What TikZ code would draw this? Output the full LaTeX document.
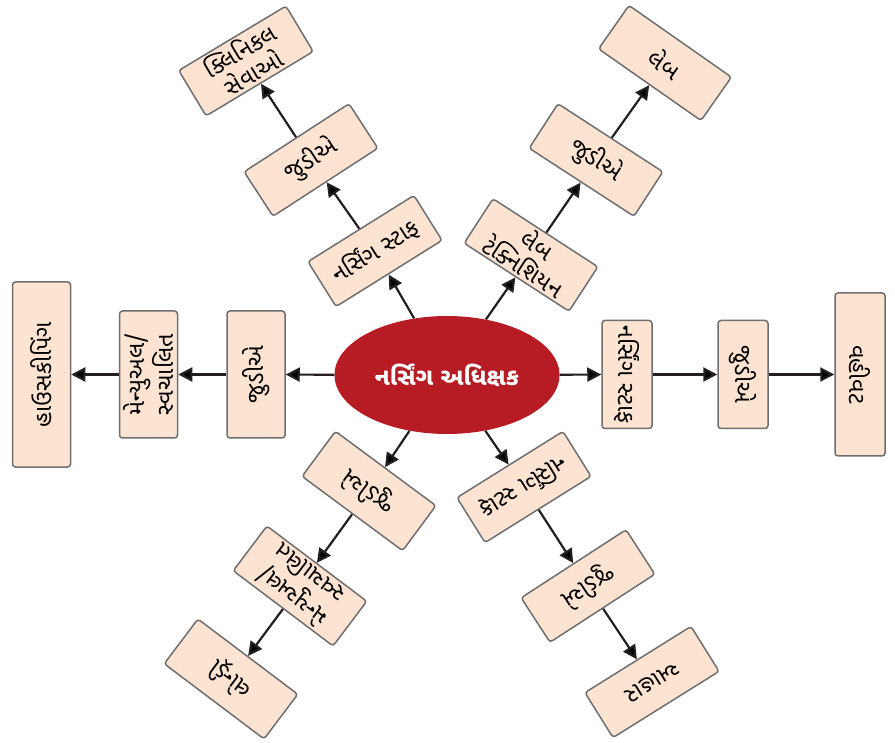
\documentclass[tikz,border=0pt]{standalone}
\usepackage{fontspec}
\newfontfamily\gujfont[Script=Gujarati]{Noto Sans Gujarati UI}
\usetikzlibrary{arrows.meta, shapes.geometric}
\definecolor{boxfill}{RGB}{253,228,210}
\definecolor{boxline}{RGB}{110,110,112}
\definecolor{headred}{RGB}{183,28,36}
\definecolor{arrowdark}{RGB}{35,31,32}

\begin{document}
\begin{tikzpicture}[x=1pt, y=-1pt]
	\tikzset {>={Triangle[length=14pt, width=14pt]},
		box/.style={draw=boxline, fill=boxfill, line width=1.5pt, rounded corners=3pt, inner sep=1pt, align=center, minimum width=125pt, minimum height=53pt, font=\gujfont\fontsize{23.5pt}{26pt}\selectfont},
		upright/.style={box, minimum width=108pt, minimum height=50pt},
		head/.style={ellipse, fill=headred, text=white, minimum width=225pt, minimum height=118pt, font=\gujfont\bfseries\fontsize{24pt}{28pt}\selectfont},
		link/.style={->, draw=arrowdark, line width=2.2pt} }
	\useasboundingbox (0,0) rectangle (895,743);
	\node[head] (0) at (447,375) {નર્સિંગ અધિક્ષક};

	% upper left
	\node[box, rotate=32] (11) at (375,251) {નર્સિંગ સ્ટાફ};
	\node[box, rotate=33] (12) at (311,160) {જુડીએ};
	\node[box, rotate=31] (13) at (246,61) {ક્લિનિકલ\\સેવાઓ};
	% upper right
	\node[box, rotate=-33] (21) at (531,255) {લેબ\\ટેક્નિશિયન};
	\node[box, rotate=-33] (22) at (596,160) {જુડીએ};
	\node[box, rotate=-35] (23) at (665,63) {લેબ};
	% right
	\node[upright, rotate=-90] (31) at (627,374.5) {નર્સિંગ સ્ટાફ};
	\node[upright, rotate=-90] (32) at (743,374.5) {જુડીએ};
	\node[upright, rotate=-90, minimum width=163pt] (33) at (860,374.5) {વહીવટ};
	% lower right
	\node[box, rotate=212] (41) at (524,487) {નર્સિંગ સ્ટાફ};
	\node[box, rotate=213] (42) at (588,586) {જુડીએ};
	\node[box, rotate=212] (43) at (652,682) {આહાર};
	% lower left
	\node[box, rotate=143.5, minimum height=56pt] (51) at (369,491) {જુડીએ};
	\node[box, rotate=143, minimum height=56pt] (52) at (300,586) {મેન્યુઅલ/\\સ્વચાલિત};
	\node[box, rotate=143, minimum height=56pt] (53) at (231,679) {લોન્ડ્રી};
	% left
	\node[box, rotate=90, minimum width=127pt, minimum height=58pt] (61) at (256,374.5) {જુડીએ};
	\node[box, rotate=90, minimum width=127pt, minimum height=58pt] (62) at (148.5,374.5) {મેન્યુઅલ/\\સ્વચાલિત};
	\node[box, rotate=90, minimum width=185pt, minimum height=58pt] (63) at (41.5,374.5) {હાઉસકીપિંગ};

	\draw[link]
	(0) edge (11) (11) edge (12) (12) edge (13)
	(0) edge (21) (21) edge (22) (22) edge (23)
	(0) edge (31) (31) edge (32) (32) edge (33)
	(0) edge (41) (41) edge (42) (42) edge (43)
	(0) edge (51) (51) edge (52) (52) edge (53)
	(0) edge (61) (61) edge (62) (62) edge (63);
\end{tikzpicture}
\end{document}
